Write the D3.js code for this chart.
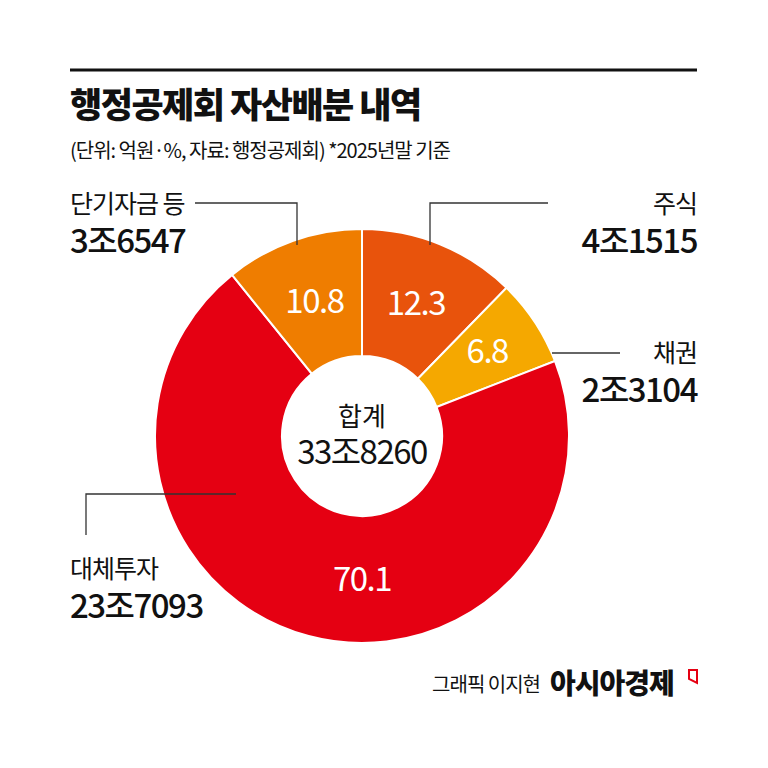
<!DOCTYPE html>
<html><head><meta charset="utf-8">
<script src="https://cdn.jsdelivr.net/npm/d3@7"></script>
<style>body{margin:0;background:#fff}svg text{font-family:"Noto Sans CJK KR",sans-serif}</style>
</head><body>
<svg id="chart" width="768" height="768"></svg>
<script>
const categories = ['주식', '채권', '대체투자', '단기자금 등'];
const shares = [12.3, 6.8, 70.1, 10.8];
const amounts = ['4조1515', '2조3104', '23조7093', '3조6547'];
const colors = ['#e8530c', '#f5a800', '#e50012', '#ef7d00'];

const svg = d3.select('#chart');
const cx = 362, cy = 436, outerR = 207, innerR = 80;

// header
svg.append('line').attr('x1', 70).attr('x2', 697).attr('y1', 70).attr('y2', 70)
  .attr('stroke', '#111').attr('stroke-width', 3);
svg.append('text').attr('x', 70).attr('y', 118).text('행정공제회 자산배분 내역')
  .style('font-size', '35px').style('font-weight', 900).attr('fill', '#111').attr('letter-spacing', -1.5);
svg.append('text').attr('x', 70).attr('y', 158).text('(단위: 억원·%, 자료: 행정공제회)  *2025년말 기준')
  .style('font-size', '20px').attr('fill', '#111').attr('letter-spacing', -1);

const pie = d3.pie().sort(null)(shares);
const arc = d3.arc().innerRadius(innerR).outerRadius(outerR);
const labelArc = d3.arc().innerRadius(143).outerRadius(143);
const g = svg.append('g').attr('transform', `translate(${cx},${cy})`);

g.selectAll('path').data(pie).enter().append('path')
  .attr('d', arc).attr('fill', (d, i) => colors[i])
  .attr('stroke', '#fff').attr('stroke-width', 2);

g.selectAll('text.val').data(pie).enter().append('text')
  .attr('transform', d => {
    let c = labelArc.centroid(d);
    if (d.index === 1) { c[0] += 6; c[1] -= 6; }
    // big slice: label sits straight below the centre
    if (d.index === 2) c = labelArc.centroid({ startAngle: Math.PI, endAngle: Math.PI });
    return `translate(${c})`;
  })
  .attr('text-anchor', 'middle').attr('dy', '0.36em')
  .attr('fill', '#fff').style('font-size', '33px').attr('letter-spacing', -1.5)
  .text(d => d.data);

g.append('text').attr('y', -10).attr('text-anchor', 'middle').text('합계')
  .style('font-size', '26px').attr('fill', '#111');
g.append('text').attr('y', 28).attr('text-anchor', 'middle').text('33조8260')
  .style('font-size', '33px').attr('fill', '#111').attr('letter-spacing', -1.5);

// leader lines
const lines = [
  [[430, 245], [430, 203], [548, 203]],
  [[552, 353], [620, 353]],
  [[236, 494], [86, 494], [86, 535]],
  [[297, 245], [297, 203], [195, 203]]
];
svg.selectAll('path.lead').data(lines).enter().append('path')
  .attr('d', d3.line()).attr('fill', 'none').attr('stroke', '#333').attr('stroke-width', 1.3);

const labels = [
  { x: 697, y: 213, anchor: 'end' },
  { x: 697, y: 362, anchor: 'end' },
  { x: 70, y: 578, anchor: 'start' },
  { x: 70, y: 213, anchor: 'start' }
];
labels.forEach((p, i) => {
  svg.append('text').attr('x', p.x).attr('y', p.y).attr('text-anchor', p.anchor)
    .text(categories[i]).style('font-size', '25px').attr('fill', '#111').attr('letter-spacing', -1);
  svg.append('text').attr('x', p.x).attr('y', p.y + 40).attr('text-anchor', p.anchor)
    .text(amounts[i]).style('font-size', '33px').style('font-weight', 500)
    .attr('fill', '#111').attr('letter-spacing', -1.5);
});

// footer
svg.append('text').attr('x', 540).attr('y', 692).attr('text-anchor', 'end').text('그래픽 이지현')
  .style('font-size', '20px').attr('fill', '#111').attr('letter-spacing', -1);
svg.append('text').attr('x', 550).attr('y', 694).text('아시아경제')
  .style('font-size', '28px').style('font-weight', 900).attr('fill', '#111').attr('letter-spacing', -1);
svg.append('path').attr('d', 'M689,670 L697,670 L697,683 L689,679 Z')
  .attr('fill', 'none').attr('stroke', '#e50012').attr('stroke-width', 2);
</script>
</body></html>
